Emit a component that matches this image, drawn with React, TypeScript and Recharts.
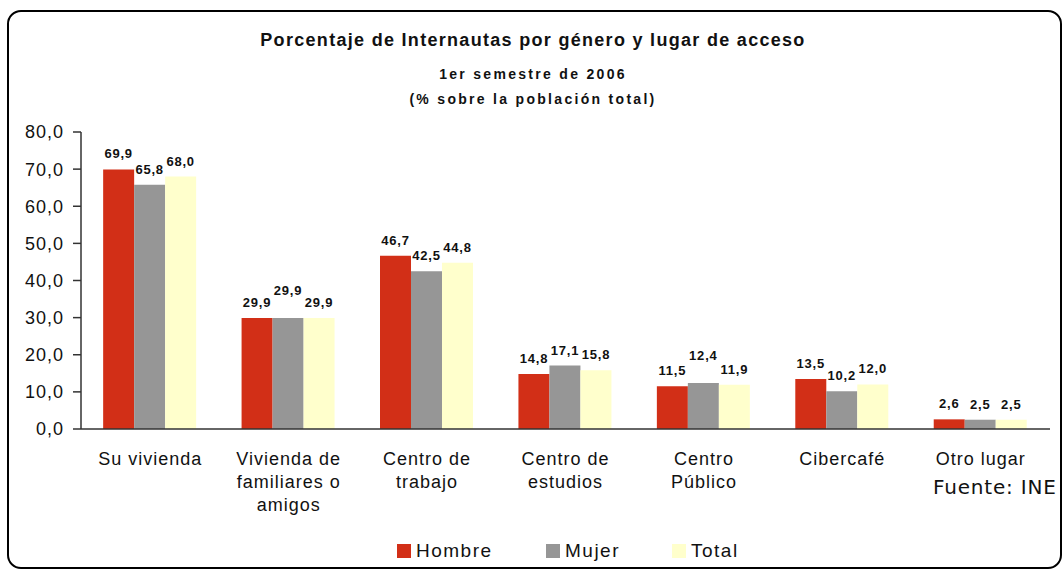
import { BarChart, Bar, XAxis, YAxis, Legend, LabelList } from "recharts";

const categories = [
  "Su vivienda",
  "Vivienda de familiares o amigos",
  "Centro de trabajo",
  "Centro de estudios",
  "Centro Público",
  "Cibercafé",
  "Otro lugar",
];
// line breaks as in the original axis labels
const categoryLines = [
  ["Su vivienda"],
  ["Vivienda de", "familiares o", "amigos"],
  ["Centro de", "trabajo"],
  ["Centro de", "estudios"],
  ["Centro", "Público"],
  ["Cibercafé"],
  ["Otro lugar"],
];
const hombre = [69.9, 29.9, 46.7, 14.8, 11.5, 13.5, 2.6];
const mujer = [65.8, 29.9, 42.5, 17.1, 12.4, 10.2, 2.5];
const total = [68.0, 29.9, 44.8, 15.8, 11.9, 12.0, 2.5];
const yTicks = [0, 10, 20, 30, 40, 50, 60, 70, 80];
const edgeTicks = [0, 1, 2, 3, 4, 5, 6, 7];

const series = [
  { key: "hombre", name: "Hombre", color: "#D22F17" },
  { key: "mujer", name: "Mujer", color: "#969696" },
  { key: "total", name: "Total", color: "#FFFFCC" },
];

const data = categories.map((c, i) => ({
  cat: c,
  hombre: hombre[i],
  mujer: mujer[i],
  total: total[i],
}));

const FONT = "Arial, 'Liberation Sans', sans-serif";
const fmt = (v: number) => v.toFixed(1).replace(".", ",");

function CategoryTick(props: any) {
  const { x, y, index } = props;
  const lines = categoryLines[index] || [];
  return (
    <g>
      <text x={x} y={y + 11} textAnchor="middle" fontFamily={FONT} fontSize={18} letterSpacing={1} fill="#111">
        {lines.map((l, i) => (
          <tspan key={i} x={x} dy={i === 0 ? 17 : 23}>
            {l}
          </tspan>
        ))}
      </text>
    </g>
  );
}

// Excel lifts the middle label when it would collide with its neighbours
function BarValueLabel(props: any) {
  const { x, y, width, value, index, seriesKey } = props;
  let lift = 0;
  if (seriesKey === "mujer" && value >= 10) {
    const close = Math.abs(value - hombre[index]) < 1 || Math.abs(value - total[index]) < 1;
    if (close) lift = 12;
  }
  return (
    <text
      x={x + width / 2}
      y={y - 11 - lift}
      textAnchor="middle"
      fontFamily={FONT}
      fontSize={13}
      fontWeight="bold"
      letterSpacing={0.8}
      fill="#111"
    >
      {fmt(Number(value))}
    </text>
  );
}

const legendWidths = [149, 126, 100];

function LegendContent() {
  return (
    <div style={{ display: "flex", fontFamily: FONT, fontSize: 19, letterSpacing: 1.5, color: "#111" }}>
      {series.map((s, i) => (
        <div key={s.key} style={{ display: "flex", alignItems: "center", width: legendWidths[i] }}>
          <span style={{ width: 14, height: 14, background: s.color, display: "inline-block", marginRight: 5 }} />
          <span>{s.name}</span>
        </div>
      ))}
    </div>
  );
}

export default function App() {
  return (
    <div style={{ position: "absolute", left: 0, top: 0, width: 1062, height: 569, background: "#fff", overflow: "hidden" }}>
      <div
        style={{
          position: "absolute",
          left: 7,
          top: 10,
          width: 1051,
          height: 555,
          border: "2px solid #000",
          borderRadius: 14,
        }}
      />
      <div style={{ position: "absolute", left: 0, width: 1066, top: 30, textAlign: "center", fontFamily: FONT, fontWeight: "bold", fontSize: 18, letterSpacing: 1.3, color: "#111" }}>
        Porcentaje de Internautas por género y lugar de acceso
      </div>
      <div style={{ position: "absolute", left: 0, width: 1066, top: 66, textAlign: "center", fontFamily: FONT, fontWeight: "bold", fontSize: 14, letterSpacing: 2.3, color: "#111" }}>
        1er semestre de 2006
      </div>
      <div style={{ position: "absolute", left: 0, width: 1066, top: 91, textAlign: "center", fontFamily: FONT, fontWeight: "bold", fontSize: 14, letterSpacing: 2.3, color: "#111" }}>
        (% sobre la población total)
      </div>
      <div style={{ position: "absolute", left: 933, top: 475, fontFamily: "'DejaVu Sans', Verdana, sans-serif", fontSize: 20, letterSpacing: 0.8, color: "#111" }}>
        Fuente: INE
      </div>
      <BarChart
        width={1062}
        height={569}
        data={data}
        barCategoryGap="16%"
        barGap={0}
        margin={{ top: 132, right: 12, bottom: 40, left: 0 }}
        style={{ position: "absolute", left: 0, top: 0 }}
      >
        <XAxis
          xAxisId="edges"
          type="number"
          domain={[0, 7]}
          ticks={edgeTicks}
          height={0}
          axisLine={false}
          tickLine={{ stroke: "#333", strokeWidth: 1.5 }}
          tickSize={7}
          tick={() => <g />}
          allowDataOverflow
        />
        <XAxis
          dataKey="cat"
          interval={0}
          height={100}
          axisLine={{ stroke: "#333", strokeWidth: 1.5 }}
          tickLine={false}
          tick={<CategoryTick />}
        />
        <YAxis
          width={81}
          domain={[0, 80]}
          ticks={yTicks}
          tickFormatter={fmt}
          axisLine={{ stroke: "#333", strokeWidth: 1.5 }}
          tickLine={{ stroke: "#333", strokeWidth: 1.5 }}
          tickSize={8}
          tickMargin={9}
          tick={{ fontFamily: FONT, fontSize: 18, letterSpacing: 1, fill: "#111" }}
        />
        <Legend
          layout="horizontal"
          verticalAlign="middle"
          align="center"
          wrapperStyle={{ top: 540, left: 397, width: 400 }}
          content={<LegendContent />}
        />
        {series.map((s) => (
          <Bar key={s.key} dataKey={s.key} name={s.name} fill={s.color} isAnimationActive={false}>
            <LabelList dataKey={s.key} content={<BarValueLabel seriesKey={s.key} />} />
          </Bar>
        ))}
      </BarChart>
    </div>
  );
}
